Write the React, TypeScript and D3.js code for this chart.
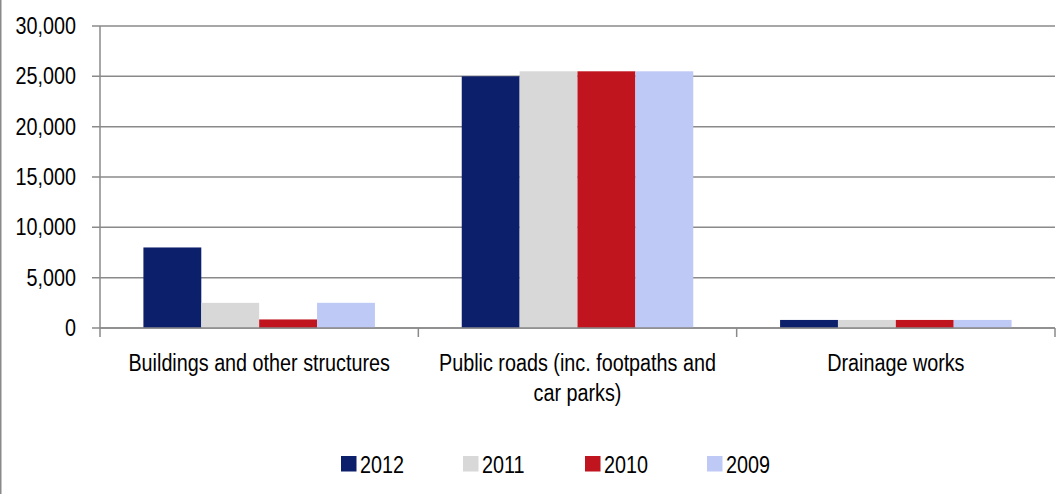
import React from "react";
import * as d3 from "d3";

const categories = ["Buildings and other structures", "Public roads (inc. footpaths and|car parks)", "Drainage works"];
const seriesNames = ["2012", "2011", "2010", "2009"];
const v2012 = [8000, 25000, 800];
const v2011 = [2500, 25500, 800];
const v2010 = [850, 25500, 800];
const v2009 = [2500, 25500, 800];
const yTicks = [0, 5000, 10000, 15000, 20000, 25000, 30000];
const colors = ["#0c1f6b", "#d8d8d8", "#c0141e", "#bfc9f5"];

const W = 1058, H = 494;
const left = 100, right = 1055, top = 26, bottom = 328;
const FONT = "'Liberation Sans', Arial, sans-serif";
const FS = 23;
const SX = 0.86;

function T({ x, y, anchor, children }: { x: number; y: number; anchor?: string; children: React.ReactNode }) {
  return (
    <text
      transform={`translate(${x},${y}) scale(${SX},1)`}
      textAnchor={anchor || "start"}
      fontFamily={FONT}
      fontSize={FS}
      fill="#000"
    >
      {children}
    </text>
  );
}

export default function App() {
  const series = [v2012, v2011, v2010, v2009];
  const x0 = d3.scaleBand<string>().domain(categories).range([left, right]).padding(0);
  const cw = x0.bandwidth();
  const barW = cw / 5.5;
  const x1 = d3.scaleBand<string>().domain(seriesNames).range([barW * 0.75, cw - barW * 0.75]).padding(0);
  const y = d3.scaleLinear().domain([0, 30000]).range([bottom, top]);
  const fmt = d3.format(",");
  const gridColor = "#8a8a8a";

  return (
    <svg width={W} height={H} style={{ position: "absolute", left: 0, top: 0, background: "#fff" }}>
      <line x1={0.75} x2={0.75} y1={0} y2={H} stroke={gridColor} strokeWidth={1.5} />
      {yTicks.map((t) => (
        <g key={t}>
          <line x1={92} x2={right} y1={y(t)} y2={y(t)} stroke={gridColor} strokeWidth={1.5} />
          <T x={76} y={y(t) + 8} anchor="end">{fmt(t)}</T>
        </g>
      ))}
      <line x1={left} x2={left} y1={top} y2={337} stroke={gridColor} strokeWidth={1.5} />
      {categories.map((c, i) => (
        <line key={"t" + i} x1={x0(c)! + cw} x2={x0(c)! + cw} y1={bottom} y2={337} stroke={gridColor} strokeWidth={1.5} />
      ))}
      {categories.map((c, ci) => (
        <g key={c}>
          {seriesNames.map((s, si) => (
            <rect
              key={s}
              x={x0(c)! + x1(s)!}
              y={y(series[si][ci])}
              width={x1.bandwidth()}
              height={bottom - y(series[si][ci])}
              fill={colors[si]}
            />
          ))}
          {c.split("|").map((line, li) => (
            <T key={li} x={x0(c)! + cw / 2} y={371 + li * 29.5} anchor="middle">{line}</T>
          ))}
        </g>
      ))}
      <line x1={left} x2={right} y1={bottom} y2={bottom} stroke={gridColor} strokeWidth={1.5} />
      {seriesNames.map((s, i) => (
        <g key={s} transform={`translate(${341 + i * 122},0)`}>
          <rect x={0} y={456} width={15.5} height={15.5} fill={colors[i]} />
          <T x={19} y={473}>{s}</T>
        </g>
      ))}
    </svg>
  );
}
